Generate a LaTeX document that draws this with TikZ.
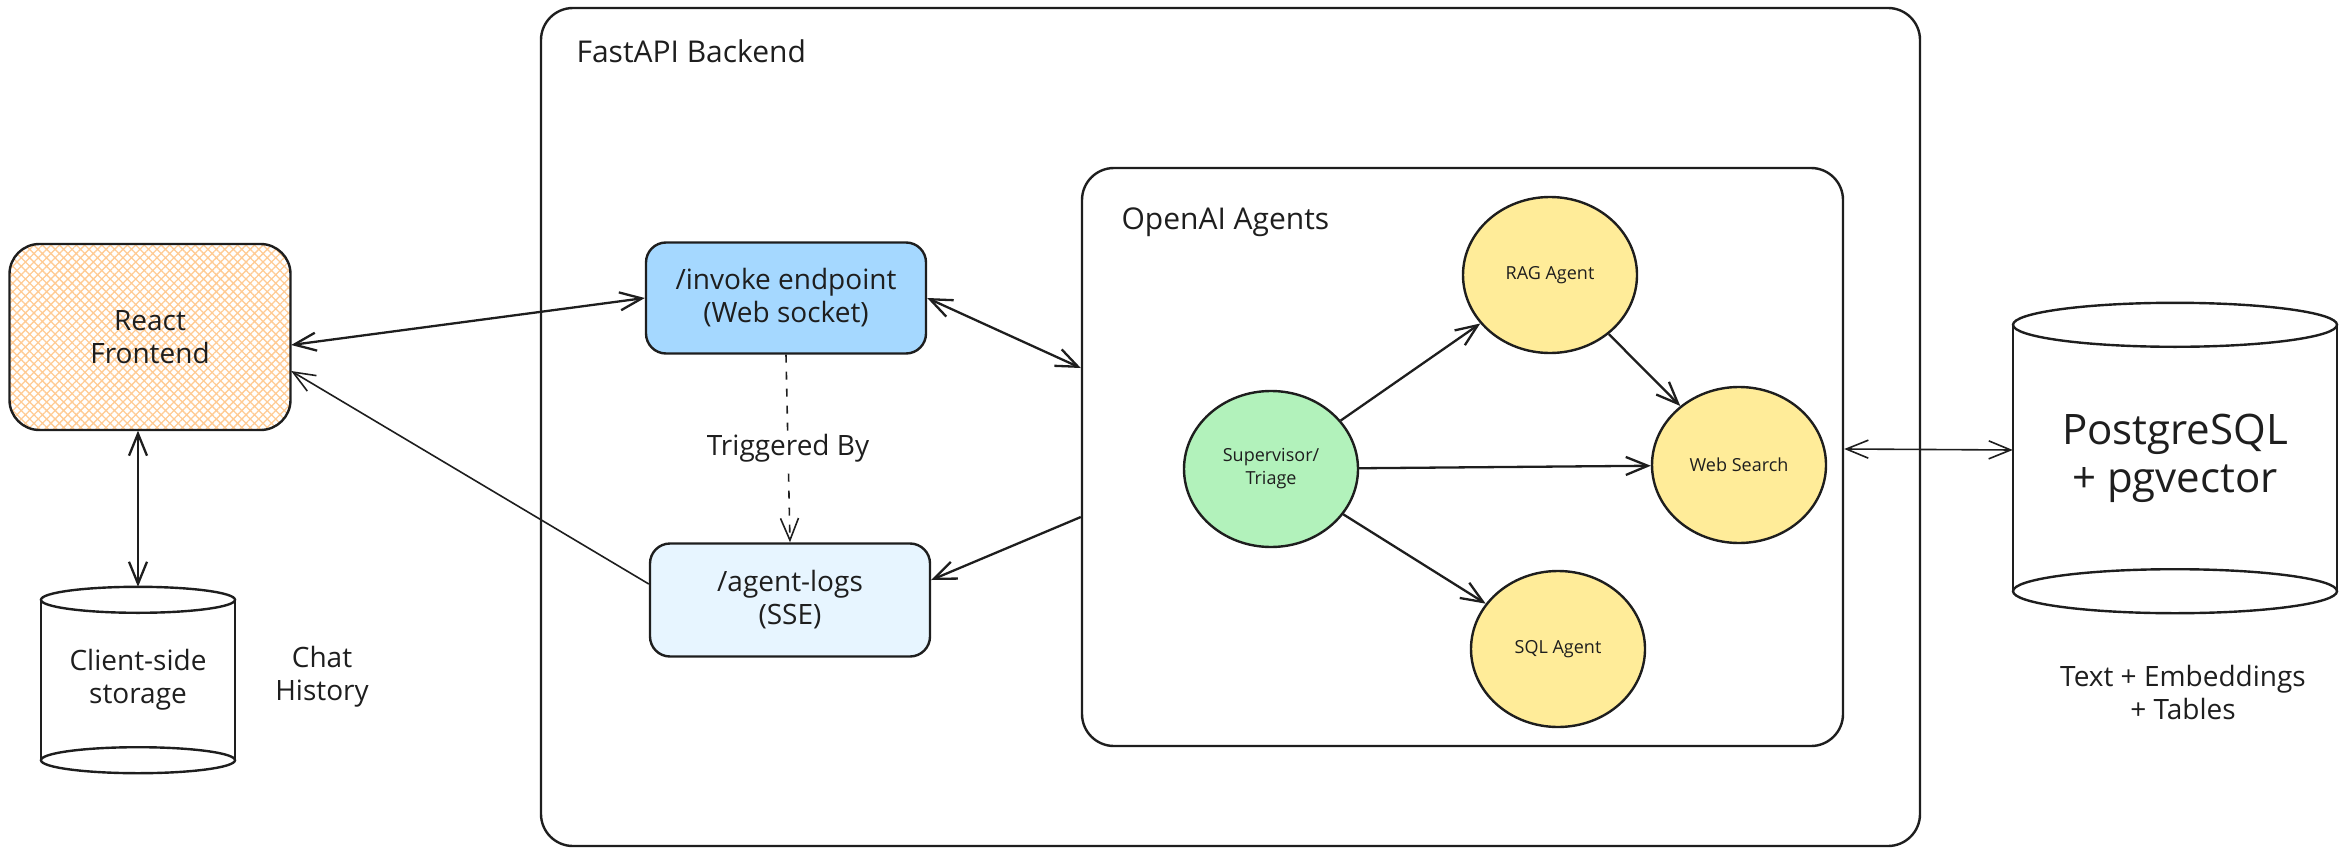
\documentclass[tikz,border=0pt]{standalone}
\usepackage{fontspec}
\setmainfont{Open Sans}
\usetikzlibrary{arrows.meta}
\usetikzlibrary{patterns.meta}
\usetikzlibrary{shapes.geometric}

\definecolor{ink}{HTML}{1E1E1E}
\definecolor{hatch}{HTML}{FFCB94}
\definecolor{wsblue}{HTML}{A5D8FF}
\definecolor{sseblue}{HTML}{E7F5FF}
\definecolor{supgreen}{HTML}{B2F2BB}
\definecolor{agentyellow}{HTML}{FFEC99}

\tikzset{
	txt/.style={align=center, text=ink, font=\fontsize{28}{33}\selectfont},
	box/.style={txt, draw=ink, line width=2.4pt, rounded corners=20pt},
	frame/.style={draw=ink, line width=2.4pt, rounded corners=32pt},
	framelbl/.style={txt, anchor=west, font=\fontsize{30}{34}\selectfont},
	agent/.style={ellipse, draw=ink, line width=2.4pt, fill=agentyellow, minimum width=174pt, minimum height=156pt, align=center, text=ink, font=\fontsize{18}{23}\selectfont},
	dbline/.style={draw=ink, line width=2.4pt},
	link/.style={draw=ink, line width=2.3pt},
	thinlink/.style={draw=ink, line width=1.6pt},
}

\begin{document}
\begin{tikzpicture}[x=1pt, y=-1pt, >={Straight Barb[length=22pt,width=18pt]}]
	\useasboundingbox (0,0) rectangle (2347,856);

	% containers
	\node[frame, minimum width=1379pt, minimum height=838pt] (backend) at (1230.5,427) {};
	\node[framelbl] (backendlbl) at (573,51) {FastAPI Backend};
	\node[frame, minimum width=761pt, minimum height=578pt] (agents) at (1462.5,457) {};
	\node[framelbl] (agentslbl) at (1118,222) {OpenAI Agents};

	% client side
	\node[box, rounded corners=30pt, minimum width=281pt, minimum height=186pt,
		pattern={Hatch[angle=45,distance=6pt,line width=1.3pt]}, pattern color=hatch] (react) at (150,337) {React\\Frontend};
	\node[txt, minimum width=194pt, minimum height=186pt] (store) at (138,680) {Client-side\\storage};
	\draw[dbline] ([yshift=-13pt]store.north west) -- ([yshift=13pt]store.south west)
		([yshift=-13pt]store.north east) -- ([yshift=13pt]store.south east);
	\draw[dbline] ([yshift=-13pt]store.north) ellipse [x radius=97pt, y radius=13pt]
		([yshift=13pt]store.south) ellipse [x radius=97pt, y radius=13pt];
	\node[txt] (chat) at (322,677) {Chat\\History};

	% endpoints
	\node[box, fill=wsblue, minimum width=280pt, minimum height=111pt] (invoke) at (786,298) {/invoke endpoint\\(Web socket)};
	\node[box, fill=sseblue, minimum width=280pt, minimum height=113pt] (logs) at (790,600) {/agent-logs\\(SSE)};

	% agents
	\node[agent, fill=supgreen] (sup) at (1271,469) {Supervisor/\\Triage};
	\node[agent] (rag) at (1550,275) {RAG Agent};
	\node[agent] (web) at (1739,465) {Web Search};
	\node[agent] (sql) at (1558,649) {SQL Agent};

	% database
	\node[txt, font=\fontsize{42}{48}\selectfont, minimum width=324pt, minimum height=310pt] (pg) at (2175,458) {PostgreSQL\\+ pgvector};
	\draw[dbline] ([yshift=-22pt]pg.north west) -- ([yshift=22pt]pg.south west)
		([yshift=-22pt]pg.north east) -- ([yshift=22pt]pg.south east);
	\draw[dbline] ([yshift=-22pt]pg.north) ellipse [x radius=162pt, y radius=22pt]
		([yshift=22pt]pg.south) ellipse [x radius=162pt, y radius=22pt];
	\node[txt] (pgnote) at (2183,692) {Text + Embeddings\\+ Tables};

	% connectors
	\draw[link, <->] ([yshift=-8pt]react.east) -- (invoke.west);
	\draw[thinlink, ->] ([yshift=16pt]logs.west) -- ([yshift=-34pt]react.east);
	\draw[link, <->] (react.south -| store.north) -- (store.north);
	\draw[thinlink, ->, dash pattern=on 8pt off 9pt] (invoke.south) -- node[txt, fill=white] (trig) {Triggered By} (logs.north);
	\draw[link, <->] (invoke.east) -- ([yshift=89pt]agents.west);
	\draw[link, ->] ([yshift=-60pt]agents.west) -- ([yshift=20pt]logs.east);
	\draw[link, ->] (sup) -- (rag);
	\draw[link, ->] (rag) -- (web);
	\draw[link, ->] (sup) -- (web);
	\draw[link, ->] (sup) -- (sql);
	\draw[thinlink, <->] ([yshift=8pt]agents.east) -- ([yshift=8pt]pg.west);
\end{tikzpicture}
\end{document}
